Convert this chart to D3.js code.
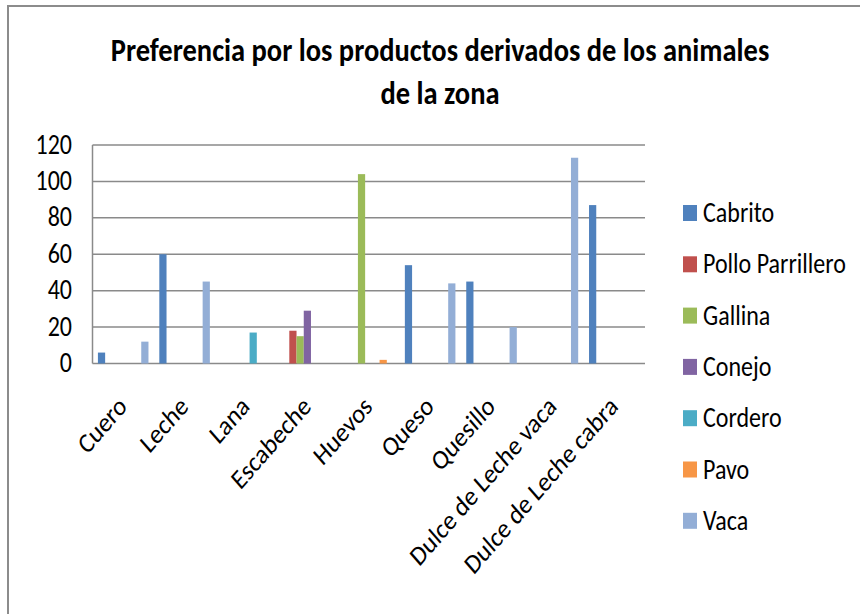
<!DOCTYPE html>
<html>
<head>
<meta charset="utf-8">
<script src="https://cdn.jsdelivr.net/npm/d3@7"></script>
<style>
  html, body { margin: 0; padding: 0; background: #fff; }
  svg { display: block; }
  text { font-family: Carlito, Lato, "Open Sans", sans-serif; fill: #000; }
</style>
</head>
<body>
<svg id="chart" width="860" height="614"></svg>
<script>
// Products (categories on the x axis)
const categories = ["Cuero", "Leche", "Lana", "Escabeche", "Huevos", "Queso", "Quesillo", "Dulce de Leche vaca", "Dulce de Leche cabra"];

// Animals (one series each)
const seriesNames = ["Cabrito", "Pollo Parrillero", "Gallina", "Conejo", "Cordero", "Pavo", "Vaca"];
const seriesColors = ["#4F81BD", "#C0504D", "#9BBB59", "#8064A2", "#4BACC6", "#F79646", "#93AED6"];

// Values per series, aligned with categories (null = no answer)
const cabrito = [6, 60, null, null, null, 54, 45, null, 87];
const polloParrillero = [null, null, null, 18, null, null, null, null, null];
const gallina = [null, null, null, 15, 104, null, null, null, null];
const conejo = [null, null, null, 29, null, null, null, null, null];
const cordero = [null, null, 17, null, null, null, null, null, null];
const pavo = [null, null, null, null, 2, null, null, null, null];
const vaca = [12, 45, null, null, null, 44, 20, 113, null];

const yTicks = [0, 20, 40, 60, 80, 100, 120];
const titleLines = ["Preferencia por los productos derivados de los animales", "de la zona"];

const seriesValues = [cabrito, polloParrillero, gallina, conejo, cordero, pavo, vaca];

// text in this chart is drawn slightly taller than wide
const TEXT_STRETCH = 1.15;

const svg = d3.select("#chart");

// outer chart border
svg.append("path")
  .attr("d", "M8,614 L8,6 L860,6")
  .attr("fill", "none")
  .attr("stroke", "#8c8c8c")
  .attr("stroke-width", 2);

const plot = { left: 92.5, right: 645, top: 145, bottom: 363.5 };

const x0 = d3.scaleBand().domain(categories).range([plot.left, plot.right]).padding(0);
const x1 = d3.scaleBand().domain(seriesNames).range([0, x0.bandwidth()])
  .paddingInner(0).paddingOuter(0.75);
const y = d3.scaleLinear().domain([0, 120]).range([plot.bottom, plot.top]);

// title
svg.append("g").selectAll("text").data(titleLines).join("text")
  .attr("transform", (d, i) => `translate(440,${61 + i * 42.5}) scale(1,${TEXT_STRETCH})`)
  .attr("text-anchor", "middle")
  .attr("font-weight", "bold")
  .attr("font-size", 28.5)
  .text(d => d);

// gridlines
svg.append("g").selectAll("line").data(yTicks).join("line")
  .attr("x1", plot.left).attr("x2", plot.right)
  .attr("y1", d => y(d)).attr("y2", d => y(d))
  .attr("stroke", "#8a8a8a").attr("stroke-width", 1.5);

// y axis line
svg.append("line")
  .attr("x1", plot.left).attr("x2", plot.left)
  .attr("y1", plot.top).attr("y2", plot.bottom)
  .attr("stroke", "#8a8a8a").attr("stroke-width", 1.5);

// y tick labels
svg.append("g").selectAll("text").data(y.ticks(6).filter(t => yTicks.includes(t))).join("text")
  .attr("transform", d => `translate(72,${y(d) + 8.5}) scale(1,${TEXT_STRETCH})`)
  .attr("text-anchor", "end")
  .attr("font-size", 24)
  .text(d => d3.format("d")(d));

// bars
const barData = [];
seriesValues.forEach((vals, si) => {
  vals.forEach((v, ci) => {
    if (v !== null) barData.push({ cat: categories[ci], series: seriesNames[si], color: seriesColors[si], value: v });
  });
});
svg.append("g").selectAll("rect").data(barData).join("rect")
  .attr("x", d => x0(d.cat) + x1(d.series))
  .attr("width", x1.bandwidth())
  .attr("y", d => y(d.value))
  .attr("height", d => y(0) - y(d.value))
  .attr("fill", d => d.color);

// x category labels (rotated)
svg.append("g").selectAll("text").data(categories).join("text")
  .attr("transform", d => `translate(${x0(d) + x0.bandwidth() / 2 + 5},408) scale(1,${TEXT_STRETCH}) rotate(-45)`)
  .attr("text-anchor", "end")
  .attr("font-size", 24)
  .text(d => d);

// legend
const legend = svg.append("g").selectAll("g").data(seriesNames).join("g")
  .attr("transform", (d, i) => `translate(683,${213 + i * 51.3})`);
legend.append("rect")
  .attr("x", 0).attr("y", -8).attr("width", 14).attr("height", 16)
  .attr("fill", (d, i) => seriesColors[i]);
legend.append("text")
  .attr("transform", `translate(20,9) scale(1,${TEXT_STRETCH})`)
  .attr("font-size", 24)
  .text(d => d);
</script>
</body>
</html>
